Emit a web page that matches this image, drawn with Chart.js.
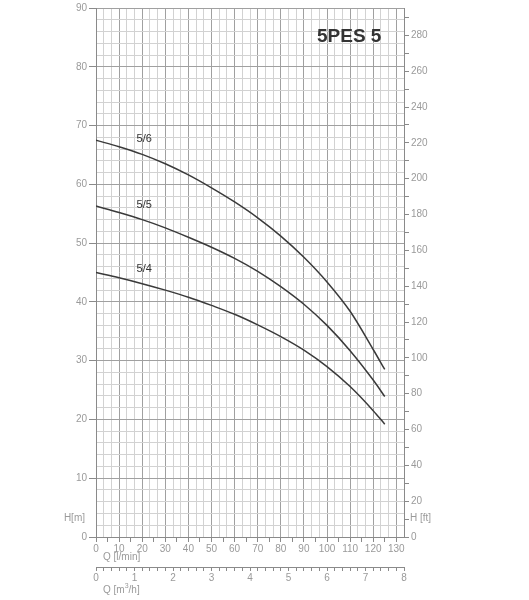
<!DOCTYPE html>
<html lang="en">
<head>
    <meta charset="UTF-8">
    <title>5PES 5</title>
    <script src="https://cdn.jsdelivr.net/npm/chart.js"></script>
    <style>
        body {
            margin: 0;
            background-color: white;
        }
        .chart-container {
            position: relative;
            width: 529px;
            height: 600px;
        }
    </style>
</head>
<body>
    <div class="chart-container">
        <canvas id="pumpChart"></canvas>
    </div>

    <script>
        // flow in l/min and head in m
        const flowLpm = [0, 10, 20, 30, 40, 50, 60, 70, 80, 90, 100, 110, 120, 125];
        const head56 = [67.5, 66.4, 65.1, 63.5, 61.6, 59.4, 57.0, 54.3, 51.2, 47.6, 43.4, 38.4, 31.9, 28.5];
        const head55 = [56.3, 55.2, 54.0, 52.6, 51.0, 49.3, 47.4, 45.2, 42.6, 39.6, 36.0, 31.7, 26.7, 23.9];
        const head54 = [45.0, 44.1, 43.1, 42.0, 40.8, 39.4, 37.9, 36.1, 34.1, 31.8, 29.0, 25.6, 21.5, 19.2];
        const curveNames = ['5/6', '5/5', '5/4'];
        const chartTitle = '5PES 5';

        const FONT = "'Liberation Sans', Arial, sans-serif";
        const tickGray = '#9a9a9a';
        const axisGray = '#8a8a8a';
        const minorGrid = '#d2d2d2';
        const majorGrid = '#a0a0a0';
        const curveColor = '#3a3a3a';

        function isMultiple(v, step) {
            return Math.abs(v / step - Math.round(v / step)) < 1e-6;
        }

        function toPoints(heads) {
            return flowLpm.map((q, i) => ({ x: q, y: heads[i] }));
        }

        const textPlugin = {
            id: 'texts',
            afterDraw(chart) {
                const ctx = chart.ctx;
                const area = chart.chartArea;
                const xs = chart.scales.x;
                const ys = chart.scales.y;
                ctx.save();

                // title
                ctx.fillStyle = '#333';
                ctx.font = 'bold 19px ' + FONT;
                ctx.textAlign = 'left';
                ctx.textBaseline = 'middle';
                ctx.fillText(chartTitle, 317, 37);

                // curve names, just above each curve
                ctx.font = '11px ' + FONT;
                ctx.textAlign = 'center';
                [head56, head55, head54].forEach((h, i) => {
                    const px = xs.getPixelForValue(flowLpm[2]) + 2;
                    const py = ys.getPixelForValue(h[2]) - 15;
                    ctx.fillText(curveNames[i], px, py);
                });

                // axis names
                ctx.fillStyle = tickGray;
                ctx.font = '10px ' + FONT;
                ctx.textAlign = 'right';
                ctx.fillText('H[m]', area.left - 11, 518);
                ctx.textAlign = 'left';
                ctx.fillText('H [ft]', area.right + 6, 518);
                ctx.fillText('Q [l/min]', area.left + 7, 557);

                let x = area.left + 7;
                const yq = 590;
                ctx.fillText('Q [m', x, yq);
                x += ctx.measureText('Q [m').width;
                ctx.font = '7px ' + FONT;
                ctx.fillText('3', x, yq - 4);
                x += ctx.measureText('3').width;
                ctx.font = '10px ' + FONT;
                ctx.fillText('/h]', x, yq);

                ctx.restore();
            }
        };

        const datasetStyle = {
            borderColor: curveColor,
            borderWidth: 1.5,
            pointRadius: 0,
            fill: false,
            cubicInterpolationMode: 'monotone',
            xAxisID: 'x',
            yAxisID: 'y'
        };

        let pumpChart = new Chart(document.getElementById('pumpChart'), {
            type: 'line',
            data: {
                datasets: [
                    Object.assign({ label: curveNames[0], data: toPoints(head56) }, datasetStyle),
                    Object.assign({ label: curveNames[1], data: toPoints(head55) }, datasetStyle),
                    Object.assign({ label: curveNames[2], data: toPoints(head54) }, datasetStyle)
                ]
            },
            options: {
                responsive: true,
                maintainAspectRatio: false,
                animation: false,
                layout: { padding: { top: 6, left: 0, right: 0, bottom: 0 } },
                plugins: {
                    legend: { display: false },
                    tooltip: { enabled: false }
                },
                scales: {
                    x: {
                        type: 'linear',
                        position: 'bottom',
                        weight: 0,
                        min: 0,
                        max: 400 / 3,
                        afterFit: s => { s.height = 30; },
                        border: { color: axisGray },
                        grid: {
                            drawOnChartArea: false,
                            tickLength: 5,
                            tickColor: axisGray
                        },
                        ticks: {
                            stepSize: 5,
                            includeBounds: false,
                            autoSkip: false,
                            maxRotation: 0,
                            padding: 1,
                            color: tickGray,
                            font: { family: FONT, size: 10 },
                            callback: v => isMultiple(v, 10) ? String(Math.round(v)) : ''
                        }
                    },
                    x2: {
                        // m3/h axis, its grid gives the vertical lines (every 0.2 m3/h)
                        type: 'linear',
                        position: 'bottom',
                        weight: 1,
                        min: 0,
                        max: 8,
                        afterFit: s => { s.height = 33; },
                        border: { color: axisGray },
                        grid: {
                            drawOnChartArea: true,
                            tickLength: 4,
                            tickColor: axisGray,
                            color: ctx => (ctx.index % 3 === 0) ? majorGrid : minorGrid
                        },
                        ticks: {
                            stepSize: 0.2,
                            autoSkip: false,
                            maxRotation: 0,
                            padding: 1,
                            color: tickGray,
                            font: { family: FONT, size: 10 },
                            callback: v => isMultiple(v, 1) ? String(Math.round(v)) : ''
                        }
                    },
                    y: {
                        type: 'linear',
                        position: 'left',
                        min: 0,
                        max: 90,
                        afterFit: s => { s.width = 96; },
                        border: { color: axisGray },
                        grid: {
                            tickLength: 7,
                            color: ctx => isMultiple(ctx.tick.value, 10) ? majorGrid : minorGrid,
                            tickColor: ctx => isMultiple(ctx.tick.value, 10) ? axisGray : 'rgba(0,0,0,0)'
                        },
                        ticks: {
                            stepSize: 2,
                            autoSkip: false,
                            padding: 2,
                            color: tickGray,
                            font: { family: FONT, size: 10 },
                            callback: v => isMultiple(v, 10) ? String(Math.round(v)) : ''
                        }
                    },
                    yFt: {
                        type: 'linear',
                        position: 'right',
                        min: 0,
                        max: 90 / 0.3048,
                        afterFit: s => { s.width = 125; },
                        border: { color: axisGray },
                        grid: {
                            drawOnChartArea: false,
                            tickLength: 5,
                            tickColor: axisGray
                        },
                        ticks: {
                            stepSize: 10,
                            includeBounds: false,
                            autoSkip: false,
                            padding: 2,
                            color: tickGray,
                            font: { family: FONT, size: 10 },
                            callback: v => isMultiple(v, 20) ? String(Math.round(v)) : ''
                        }
                    }
                }
            },
            plugins: [textPlugin]
        });
    </script>
</body>
</html>
